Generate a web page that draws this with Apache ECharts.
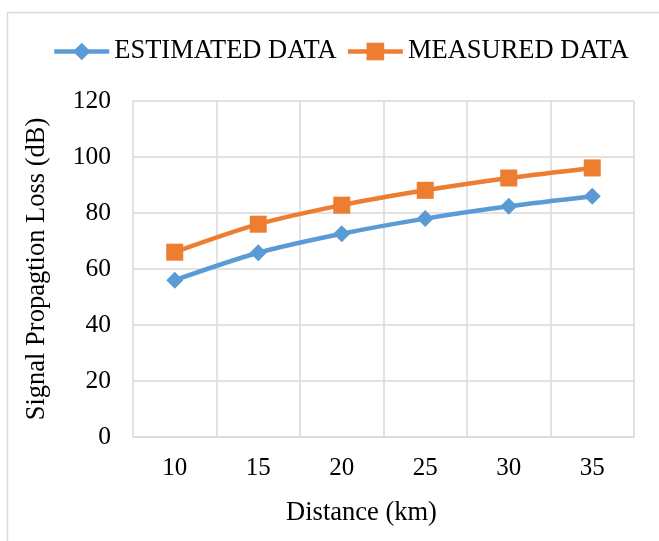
<!DOCTYPE html>
<html>
<head>
<meta charset="utf-8">
<script src="https://cdn.jsdelivr.net/npm/echarts@6/dist/echarts.min.js"></script>
<style>html,body{margin:0;padding:0;background:#fff}#c{width:659px;height:541px}</style>
</head>
<body>
<div id="c"></div>
<script>
var categories = ['10', '15', '20', '25', '30', '35'];
var estimated = [56, 65.8, 72.6, 78, 82.4, 86];
var measured = [66, 76, 82.8, 88.1, 92.5, 96.1];
var yTicks = {min: 0, max: 120, interval: 20};

var font = 'Liberation Serif, Times New Roman, serif';
var chart = echarts.init(document.getElementById('c'), null, {renderer: 'canvas'});
chart.setOption({
  backgroundColor: '#fff',
  animation: false,
  graphic: [{
    type: 'rect', left: 5, top: 10, silent: true,
    shape: {width: 700, height: 600},
    style: {fill: 'none', stroke: '#d9d9d9', lineWidth: 1.5}
  }],
  legend: {
    left: 47, top: 33,
    itemWidth: 55, itemHeight: 22, itemGap: 9,
    lineStyle: {width: 4.5},
    textStyle: {fontFamily: font, fontSize: 26.5, color: '#000'},
    data: ['ESTIMATED DATA', 'MEASURED DATA']
  },
  grid: {left: 133, right: 25, top: 101, bottom: 104, containLabel: false},
  xAxis: {
    type: 'category',
    data: categories,
    boundaryGap: true,
    name: 'Distance (km)',
    nameLocation: 'middle',
    nameGap: 63,
    nameTextStyle: {fontFamily: font, fontSize: 26.5, color: '#000', padding: [0, 44, 0, 0]},
    axisLine: {show: true, lineStyle: {color: '#d9d9d9', width: 1.5}},
    axisTick: {show: false},
    axisLabel: {fontFamily: font, fontSize: 25, color: '#000', margin: 19},
    splitLine: {show: true, lineStyle: {color: '#d9d9d9', width: 1.5}}
  },
  yAxis: {
    type: 'value',
    min: yTicks.min, max: yTicks.max, interval: yTicks.interval,
    name: 'Signal Propagtion Loss (dB)',
    nameLocation: 'middle',
    nameGap: 82,
    nameTextStyle: {fontFamily: font, fontSize: 26.5, color: '#000'},
    axisLine: {show: false},
    axisTick: {show: false},
    axisLabel: {fontFamily: font, fontSize: 25.5, color: '#000', margin: 22},
    splitLine: {show: true, lineStyle: {color: '#d9d9d9', width: 1.5}}
  },
  series: [{
    name: 'ESTIMATED DATA',
    type: 'line',
    data: estimated,
    smooth: 0.3,
    symbol: 'diamond',
    symbolSize: 17,
    itemStyle: {color: '#5B9BD5'},
    lineStyle: {color: '#5B9BD5', width: 4.5}
  }, {
    name: 'MEASURED DATA',
    type: 'line',
    data: measured,
    smooth: 0.3,
    symbol: 'rect',
    symbolSize: 17,
    itemStyle: {color: '#ED7D31'},
    lineStyle: {color: '#ED7D31', width: 4.5}
  }]
});
</script>
</body>
</html>
